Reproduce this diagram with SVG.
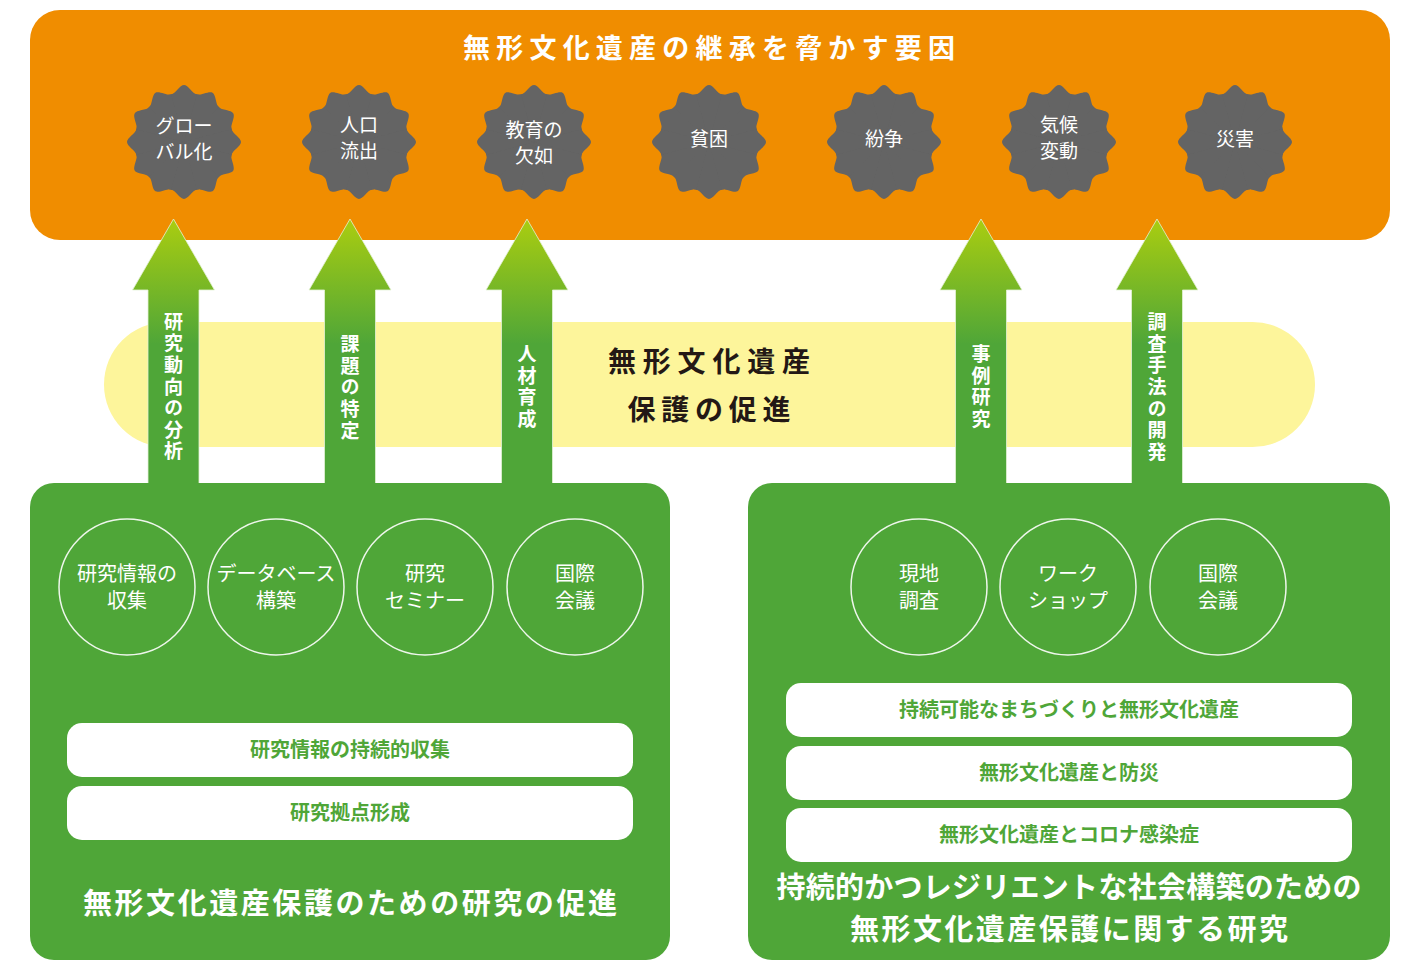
<svg xmlns="http://www.w3.org/2000/svg" xmlns:xlink="http://www.w3.org/1999/xlink" width="1407" height="960" viewBox="0 0 1407 960">
<style>
text{font-family:"Noto Sans CJK JP","Noto Sans CJK SC",sans-serif;}
.ttl{fill:#fff;font-weight:700;font-size:27px;}
.badge-t{fill:#fff;font-size:19px;text-anchor:middle;}
.arrow-t{fill:#fff;font-size:19px;font-weight:700;writing-mode:vertical-rl;letter-spacing:2.6px;}
.mid{fill:#231815;font-size:28px;font-weight:700;text-anchor:middle;}
.circ{fill:none;stroke:#fff;stroke-width:1.5;stroke-opacity:0.9;}
.circ-t{fill:#fff;font-size:20px;text-anchor:middle;}
.box{fill:#fff;}
.box-t{fill:#4fa638;font-size:20px;font-weight:700;text-anchor:middle;}
.big{fill:#fff;font-size:29px;font-weight:700;text-anchor:middle;}
.arrow{fill:url(#ag);stroke:#e4f1d6;stroke-width:1;stroke-opacity:0.8;}
</style>
<defs>
<linearGradient id="ag" gradientUnits="userSpaceOnUse" x1="0" y1="0" x2="0" y2="125">
<stop offset="0" stop-color="#aacd10"/>
<stop offset="1" stop-color="#4fa638"/>
</linearGradient>
<path id="lobe" d="M0 0 L-12.68 -47.33 C-8.82 -48.37 -4 -57 0 -57 C4 -57 8.82 -48.37 12.68 -47.33 Z" fill="#646464"/>
<g id="seal">
<circle r="49.5" fill="#646464"/>
<use xlink:href="#lobe"/>
<use xlink:href="#lobe" transform="rotate(30)"/>
<use xlink:href="#lobe" transform="rotate(60)"/>
<use xlink:href="#lobe" transform="rotate(90)"/>
<use xlink:href="#lobe" transform="rotate(120)"/>
<use xlink:href="#lobe" transform="rotate(150)"/>
<use xlink:href="#lobe" transform="rotate(180)"/>
<use xlink:href="#lobe" transform="rotate(210)"/>
<use xlink:href="#lobe" transform="rotate(240)"/>
<use xlink:href="#lobe" transform="rotate(270)"/>
<use xlink:href="#lobe" transform="rotate(300)"/>
<use xlink:href="#lobe" transform="rotate(330)"/>
</g>
<path id="arr" d="M0 0 L41 71 L25.5 71 L25.5 272 L-25.5 272 L-25.5 71 L-41 71 Z"/>
</defs>

<rect width="1407" height="960" fill="#fff"/>

<g id="threats">
<rect x="30" y="10" width="1360" height="230" rx="30" fill="#f08d00"/>
<text class="ttl" x="709" y="58" text-anchor="middle" textLength="492" lengthAdjust="spacing">無形文化遺産の継承を脅かす要因</text>
</g>

<g id="badge-global"><use xlink:href="#seal" x="184" y="142"/><text class="badge-t" x="184" y="133">グロー</text><text class="badge-t" x="184" y="159">バル化</text></g>
<g id="badge-population"><use xlink:href="#seal" x="359" y="142"/><text class="badge-t" x="359" y="132">人口</text><text class="badge-t" x="359" y="158">流出</text></g>
<g id="badge-education"><use xlink:href="#seal" x="534" y="142"/><text class="badge-t" x="534" y="137">教育の</text><text class="badge-t" x="534" y="163">欠如</text></g>
<g id="badge-poverty"><use xlink:href="#seal" x="709" y="142"/><text class="badge-t" x="709" y="146">貧困</text></g>
<g id="badge-conflict"><use xlink:href="#seal" x="884" y="142"/><text class="badge-t" x="884" y="146">紛争</text></g>
<g id="badge-climate"><use xlink:href="#seal" x="1059" y="142"/><text class="badge-t" x="1059" y="132">気候</text><text class="badge-t" x="1059" y="158">変動</text></g>
<g id="badge-disaster"><use xlink:href="#seal" x="1235" y="142"/><text class="badge-t" x="1235" y="146">災害</text></g>

<g id="promotion">
<rect x="104" y="322" width="1211" height="125" rx="62.5" fill="#fdf59b"/>
<text class="mid" x="709" y="372" textLength="202" lengthAdjust="spacing">無形文化遺産</text>
<text class="mid" x="709" y="420" textLength="163" lengthAdjust="spacing">保護の促進</text>
</g>

<g id="connectors">
<use xlink:href="#arr" class="arrow" transform="translate(173.5 219)"/>
<use xlink:href="#arr" class="arrow" transform="translate(350 219)"/>
<use xlink:href="#arr" class="arrow" transform="translate(527 219)"/>
<use xlink:href="#arr" class="arrow" transform="translate(981 219)"/>
<use xlink:href="#arr" class="arrow" transform="translate(1157 219)"/>
<text class="arrow-t" x="173.5" y="312">研究動向の分析</text>
<text class="arrow-t" x="350" y="334.5">課題の特定</text>
<text class="arrow-t" x="527" y="344.5">人材育成</text>
<text class="arrow-t" x="981" y="344.5">事例研究</text>
<text class="arrow-t" x="1157" y="312.5">調査手法の開発</text>
</g>

<g id="panel-research">
<rect x="30" y="483" width="640" height="477" rx="24" fill="#4fa638"/>
<circle class="circ" cx="127" cy="587" r="68"/>
<text class="circ-t" x="127" y="581">研究情報の</text><text class="circ-t" x="127" y="608">収集</text>
<circle class="circ" cx="276" cy="587" r="68"/>
<text class="circ-t" x="276" y="581">データベース</text><text class="circ-t" x="276" y="608">構築</text>
<circle class="circ" cx="425" cy="587" r="68"/>
<text class="circ-t" x="425" y="581">研究</text><text class="circ-t" x="425" y="608">セミナー</text>
<circle class="circ" cx="575" cy="587" r="68"/>
<text class="circ-t" x="575" y="581">国際</text><text class="circ-t" x="575" y="608">会議</text>
<rect class="box" x="67" y="723" width="566" height="54" rx="15"/>
<text class="box-t" x="350" y="757">研究情報の持続的収集</text>
<rect class="box" x="67" y="786" width="566" height="54" rx="15"/>
<text class="box-t" x="350" y="820">研究拠点形成</text>
<text class="big" x="350" y="914" textLength="534" lengthAdjust="spacing">無形文化遺産保護のための研究の促進</text>
</g>

<g id="panel-resilience">
<rect x="748" y="483" width="642" height="477" rx="24" fill="#4fa638"/>
<circle class="circ" cx="919" cy="587" r="68"/>
<text class="circ-t" x="919" y="581">現地</text><text class="circ-t" x="919" y="608">調査</text>
<circle class="circ" cx="1068" cy="587" r="68"/>
<text class="circ-t" x="1068" y="581">ワーク</text><text class="circ-t" x="1068" y="608">ショップ</text>
<circle class="circ" cx="1218" cy="587" r="68"/>
<text class="circ-t" x="1218" y="581">国際</text><text class="circ-t" x="1218" y="608">会議</text>
<rect class="box" x="786" y="683" width="566" height="54" rx="15"/>
<text class="box-t" x="1069" y="717">持続可能なまちづくりと無形文化遺産</text>
<rect class="box" x="786" y="746" width="566" height="54" rx="15"/>
<text class="box-t" x="1069" y="780">無形文化遺産と防災</text>
<rect class="box" x="786" y="808" width="566" height="54" rx="15"/>
<text class="box-t" x="1069" y="842">無形文化遺産とコロナ感染症</text>
<text class="big" x="1069" y="898" textLength="585" lengthAdjust="spacing">持続的かつレジリエントな社会構築のための</text>
<text class="big" x="1069" y="940" textLength="438" lengthAdjust="spacing">無形文化遺産保護に関する研究</text>
</g>
</svg>
